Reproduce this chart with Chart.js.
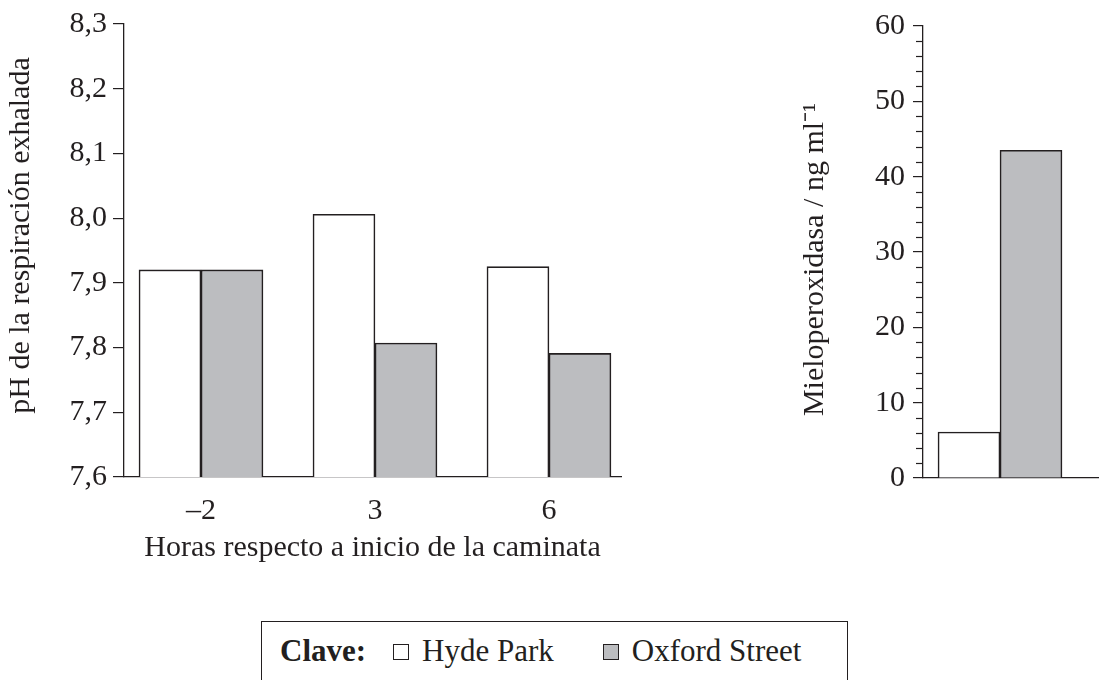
<!DOCTYPE html>
<html lang="es">
<head>
<meta charset="UTF-8">
<title>pH y mieloperoxidasa</title>
<script src="https://cdn.jsdelivr.net/npm/chart.js@4.4.1/dist/chart.umd.min.js"></script>
<style>
    body { margin: 0; background: #fff; font-family: 'Liberation Serif', 'Times New Roman', serif; color: #231f20; }
    #page { position: relative; width: 1099px; height: 680px; overflow: hidden; }
    #phChart { position: absolute; left: 0; top: 0; }
    #mpoChart { position: absolute; left: 780px; top: 0; }
    #key {
        position: absolute; left: 261px; top: 621px; width: 567px; height: 70px;
        border: 1px solid #231f20; font-size: 31px; display: flex; align-items: flex-start;
        padding-left: 18px; padding-top: 11px; white-space: nowrap;
    }
    #key b { margin-right: 27px; flex-shrink: 0; }
    .sw { display: inline-block; flex-shrink: 0; width: 14px; height: 14px; border: 1px solid #231f20; margin-right: 13px; position: relative; top: 1px; }
    .item { display: flex; flex-shrink: 0; align-items: center; margin-right: 49px; }
</style>
</head>
<body>
<div id="page">
    <canvas id="phChart" width="660" height="580"></canvas>
    <canvas id="mpoChart" width="319" height="520"></canvas>
    <div id="key"></div>
</div>
<script>
    // datos
    const horas = ['–2', '3', '6'];
    const phHydePark = [7.92, 8.006, 7.925];
    const phOxford = [7.92, 7.807, 7.791];
    const mpoHydePark = [6.1];
    const mpoOxford = [43.5];
    const series = ['Hyde Park', 'Oxford Street'];

    const ink = '#231f20';
    const grey = '#bcbdc0';
    Chart.defaults.font.family = "'Liberation Serif', 'Times New Roman', serif";
    Chart.defaults.color = ink;

    // leyenda
    document.getElementById('key').innerHTML =
        '<b>Clave:</b>' +
        '<span class="item"><span class="sw" style="background:#fff"></span>' + series[0] + '</span>' +
        '<span class="item"><span class="sw" style="background:' + grey + '"></span>' + series[1] + '</span>';

    const tickFont = { size: 30 };

    new Chart(document.getElementById('phChart'), {
        type: 'bar',
        data: {
            datasets: [
                { label: series[0], data: phHydePark.map((v, i) => ({ x: i, y: v })), backgroundColor: '#fff' },
                { label: series[1], data: phOxford.map((v, i) => ({ x: i, y: v })), backgroundColor: grey }
            ]
        },
        options: {
            responsive: false,
            animation: false,
            devicePixelRatio: 1,
            layout: { padding: { left: 2, top: 24, right: 39, bottom: 10 } },
            elements: { bar: { borderColor: ink, borderWidth: 1.6 } },
            datasets: { bar: { barThickness: 62 } },
            plugins: { legend: { display: false }, tooltip: { enabled: false } },
            scales: {
                x: {
                    type: 'linear',
                    offset: false,
                    min: -0.4425,
                    max: 2.414,
                    afterBuildTicks: s => { s.ticks = horas.map((h, i) => ({ value: i })); },
                    ticks: { font: tickFont, padding: 16, maxRotation: 0, callback: v => horas[v] },
                    grid: { offset: false, drawOnChartArea: false, drawTicks: false },
                    border: { color: ink, width: 1.3 },
                    title: { display: true, text: 'Horas respecto a inicio de la caminata', font: tickFont, padding: { top: 2, bottom: 4 } },
                    afterFit: s => { s.height = 93; }
                },
                y: {
                    min: 7.6,
                    max: 8.3,
                    ticks: { stepSize: 0.1, font: tickFont, padding: 6, callback: v => v.toFixed(1).replace('.', ',') },
                    grid: { drawOnChartArea: false, tickLength: 11, color: ink, lineWidth: 1.2 },
                    border: { color: ink, width: 1.3 },
                    title: { display: true, text: '    pH de la respiración exhalada', font: tickFont, padding: { top: 1, bottom: 4 } },
                    afterFit: s => { s.width = 122; }
                }
            }
        }
    });

    // marcas menores del eje de mieloperoxidasa
    const minorTicks = {
        id: 'minorTicks',
        afterDraw(chart) {
            const y = chart.scales.y;
            const ctx = chart.ctx;
            ctx.save();
            ctx.strokeStyle = ink;
            ctx.lineWidth = 1.2;
            y.ticks.forEach(t => {
                if (t.value % 10 !== 0) {
                    const py = Math.round(y.getPixelForValue(t.value)) + 0.5;
                    ctx.beginPath();
                    ctx.moveTo(y.right - 7, py);
                    ctx.lineTo(y.right, py);
                    ctx.stroke();
                }
            });
            ctx.restore();
        }
    };

    new Chart(document.getElementById('mpoChart'), {
        type: 'bar',
        data: {
            datasets: [
                { label: series[0], data: mpoHydePark.map((v, i) => ({ x: i, y: v })), backgroundColor: '#fff' },
                { label: series[1], data: mpoOxford.map((v, i) => ({ x: i, y: v })), backgroundColor: grey }
            ]
        },
        options: {
            responsive: false,
            animation: false,
            devicePixelRatio: 1,
            layout: { padding: { left: 13, top: 24, right: 0, bottom: 42 } },
            elements: { bar: { borderColor: ink, borderWidth: 1.6 } },
            datasets: { bar: { barThickness: 62 } },
            plugins: { legend: { display: false }, tooltip: { enabled: false } },
            scales: {
                x: {
                    type: 'linear',
                    offset: false,
                    min: -0.77,
                    max: 0.99,
                    ticks: { display: false },
                    grid: { offset: false, drawOnChartArea: false, drawTicks: false },
                    border: { color: ink, width: 1.3 }
                },
                y: {
                    min: 0,
                    max: 60,
                    ticks: { stepSize: 2, font: tickFont, padding: 8, autoSkip: false, callback: v => (v % 10 === 0 ? String(v) : '') },
                    grid: {
                        drawOnChartArea: false, tickLength: 10, lineWidth: 1.2,
                        tickColor: c => (c.tick && c.tick.value % 10 === 0 ? ink : 'rgba(0,0,0,0)')
                    },
                    border: { color: ink, width: 1.3 },
                    title: { display: true, text: 'Mieloperoxidasa / ng ml⁻¹  ', font: tickFont },
                    afterFit: s => { s.width = 130; }
                }
            }
        },
        plugins: [minorTicks]
    });
</script>
</body>
</html>
